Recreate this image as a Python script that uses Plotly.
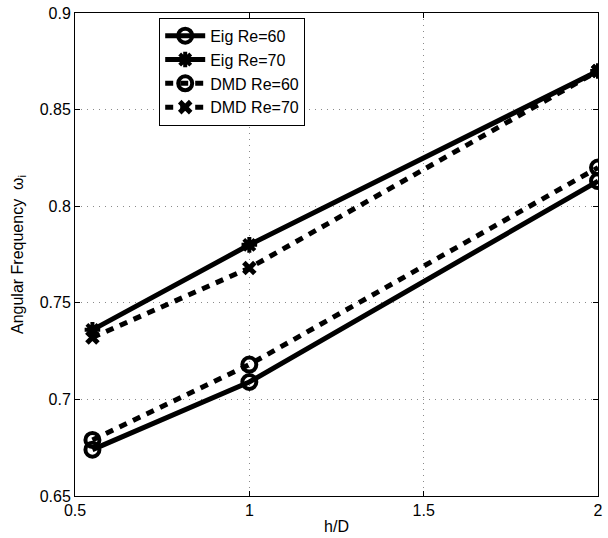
import plotly.graph_objects as go

hD = [0.55, 1.0, 2.0]
eig_re60 = [0.674, 0.709, 0.813]
eig_re70 = [0.736, 0.780, 0.870]
dmd_re60 = [0.679, 0.718, 0.820]
dmd_re70 = [0.732, 0.768, 0.870]

x_ticks = [0.5, 1, 1.5, 2]
y_ticks = [0.65, 0.7, 0.75, 0.8, 0.85, 0.9]

DASH = "8px,7px"

fig = go.Figure()
fig.add_trace(go.Scatter(x=hD, y=eig_re60, name="Eig Re=60", mode="lines+markers",
                         line=dict(color="black", width=5),
                         marker=dict(symbol="circle-open", size=14, color="black",
                                     line=dict(width=4, color="black"))))
fig.add_trace(go.Scatter(x=hD, y=eig_re70, name="Eig Re=70", mode="lines+markers",
                         line=dict(color="black", width=5),
                         marker=dict(symbol="asterisk-open", size=13, color="black",
                                     line=dict(width=4, color="black"))))
fig.add_trace(go.Scatter(x=hD, y=dmd_re60, name="DMD Re=60", mode="lines+markers",
                         line=dict(color="black", width=5, dash=DASH),
                         marker=dict(symbol="circle-open", size=14, color="black",
                                     line=dict(width=4, color="black"))))
fig.add_trace(go.Scatter(x=hD, y=dmd_re70, name="DMD Re=70", mode="lines+markers",
                         line=dict(color="black", width=5, dash=DASH),
                         marker=dict(symbol="x-thin-open", size=11, color="black",
                                     line=dict(width=5, color="black"))))

axis_common = dict(showline=True, linecolor="black", linewidth=1, mirror="ticks",
                   ticks="inside", ticklen=5, tickcolor="black",
                   showgrid=True, gridcolor="#8a8a8a", griddash="1px,5px", gridwidth=1,
                   zeroline=False, tickfont=dict(size=16, color="black"))

fig.update_xaxes(range=[0.5, 2], tickvals=x_ticks, ticktext=[f"{v:g}" for v in x_ticks],
                 title=dict(text="h/D", font=dict(size=16, color="black"), standoff=2),
                 **axis_common)
fig.update_yaxes(range=[0.65, 0.9], tickvals=y_ticks, ticktext=[f"{v:g}" for v in y_ticks],
                 title=dict(text="Angular Frequency  ω<sub>i</sub>", font=dict(size=16, color="black"), standoff=12),
                 **axis_common)

fig.update_layout(
    width=608, height=538,
    margin=dict(l=75, r=5, t=12, b=42),
    paper_bgcolor="white", plot_bgcolor="white",
    font=dict(family="Liberation Sans, Arial, sans-serif", size=16, color="black"),
    legend=dict(x=0.161, y=0.99, xanchor="left", yanchor="top",
                bgcolor="white", bordercolor="black", borderwidth=1,
                font=dict(size=16), tracegroupgap=0, itemwidth=40),
    showlegend=True,
)

fig.write_html("out.html", config={"displayModeBar": False},
               post_script="document.body.style.margin='0';document.body.style.padding='0';")
